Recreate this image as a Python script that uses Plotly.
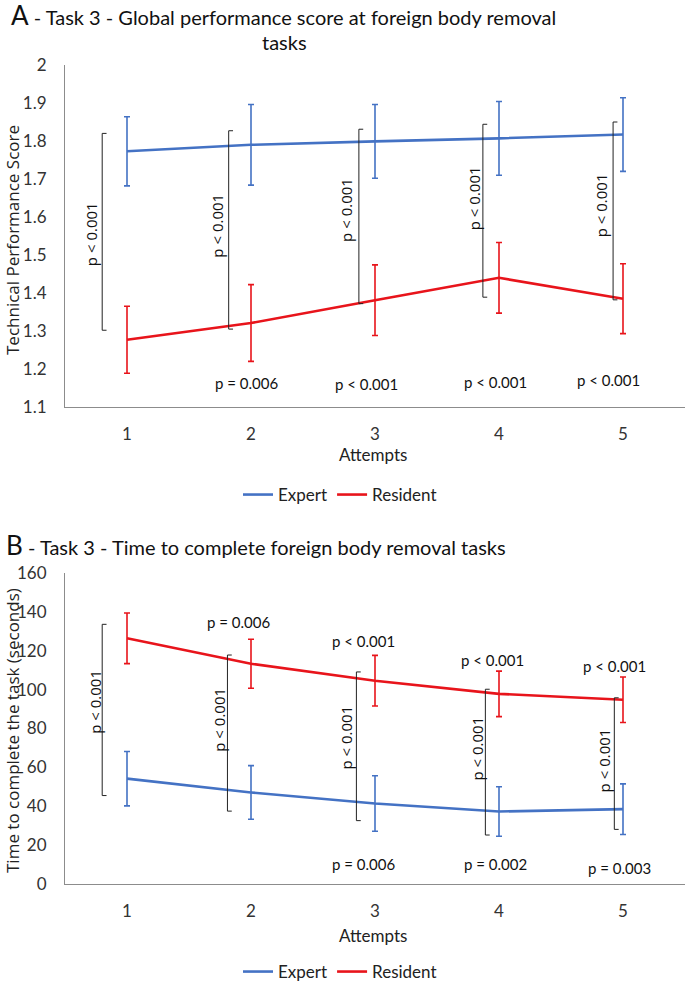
import plotly.graph_objects as go

attempts = [1, 2, 3, 4, 5]

# Panel A - technical performance score
score_expert = [1.773, 1.790, 1.799, 1.807, 1.817]
score_expert_err = [0.091, 0.106, 0.097, 0.097, 0.097]
score_resident = [1.277, 1.321, 1.381, 1.440, 1.385]
score_resident_err = [0.088, 0.101, 0.093, 0.093, 0.092]

# brackets between groups (x position, bottom, top)
score_br_x = [0.80, 1.82, 2.87, 3.87, 4.92]
score_br_lo = [1.302, 1.305, 1.372, 1.389, 1.382]
score_br_hi = [1.820, 1.827, 1.831, 1.844, 1.850]
score_br_lbl_x = [0.71, 1.73, 2.77, 3.80, 4.82]
score_br_lbl_y = [1.555, 1.576, 1.62, 1.65, 1.63]
score_br_lbl = ["p < 0.001"] * 5

score_low_x = [1.96, 2.93, 3.97, 4.88]
score_low_y = [1.162, 1.160, 1.165, 1.172]
score_low_lbl = ["p = 0.006", "p < 0.001", "p < 0.001", "p < 0.001"]

# Panel B - time to complete (seconds)
time_expert = [54.2, 47.1, 41.4, 37.3, 38.5]
time_expert_err = [14.0, 13.8, 14.3, 12.7, 13.0]
time_resident = [126.4, 113.3, 104.6, 97.8, 94.8]
time_resident_err = [13.0, 12.6, 13.0, 11.7, 11.7]

time_br_x = [0.80, 1.81, 2.85, 3.89, 4.93]
time_br_lo = [45.5, 37.5, 32.6, 25.2, 28.1]
time_br_hi = [133.6, 117.8, 109.1, 100.2, 95.8]
time_br_lbl_x = [0.74, 1.74, 2.77, 3.82, 4.85]
time_br_lbl_y = [93.6, 84.4, 75.6, 69.5, 63.8]
time_br_lbl = ["p < 0.001"] * 5

time_high_x = [1.90, 2.91, 3.95, 4.93]
time_high_y = [135.0, 125.2, 115.2, 112.3]
time_high_lbl = ["p = 0.006", "p < 0.001", "p < 0.001", "p < 0.001"]

time_low_x = [2.91, 3.97, 4.97]
time_low_y = [10.3, 10.2, 8.1]
time_low_lbl = ["p = 0.006", "p = 0.002", "p = 0.003"]

BLUE = "#4472C4"
RED = "#E8141B"
W, H = 685, 984
TICK_FONT = dict(family="Lato", size=17, color="#333333")


def px_x(p):
    return p / W


def px_y(p):
    return 1 - p / H


fig = go.Figure()


def add_panel(xa, ya, legend, exp, exp_err, res, res_err, br_x, br_lo, br_hi):
    xref = "x" if xa == "" else "x" + xa
    yref = "y" if ya == "" else "y" + ya
    for name, vals, err, col in [("Expert", exp, exp_err, BLUE),
                                 ("Resident", res, res_err, RED)]:
        fig.add_trace(go.Scatter(
            x=attempts, y=vals, name=name, mode="lines",
            line=dict(color=col, width=2.6),
            error_y=dict(type="data", array=err, color=col, thickness=1.6, width=3),
            xaxis=xref, yaxis=yref, legend=legend,
        ))
    d = 0.035
    for bx, lo, hi in zip(br_x, br_lo, br_hi):
        fig.add_trace(go.Scatter(
            x=[bx + d, bx, bx, bx + d], y=[hi, hi, lo, lo], mode="lines",
            line=dict(color="#222222", width=1), showlegend=False,
            hoverinfo="skip", xaxis=xref, yaxis=yref,
        ))


add_panel("", "", "legend", score_expert, score_expert_err, score_resident,
          score_resident_err, score_br_x, score_br_lo, score_br_hi)
add_panel("2", "2", "legend2", time_expert, time_expert_err, time_resident,
          time_resident_err, time_br_x, time_br_lo, time_br_hi)

annotations = []


def add_text(xs, ys, labels, xref, yref, angle=0, size=14, family="Lato"):
    for x, y, t in zip(xs, ys, labels):
        annotations.append(dict(
            x=x, y=y, text=t, xref=xref, yref=yref, showarrow=False,
            xanchor="center", yanchor="middle",
            textangle=angle, font=dict(family=family, size=size, color="#111111"),
        ))


add_text(score_br_lbl_x, score_br_lbl_y, score_br_lbl, "x", "y", -90, 15, "Open Sans")
add_text(score_low_x, score_low_y, score_low_lbl, "x", "y", 0, 15)
add_text(time_br_lbl_x, time_br_lbl_y, time_br_lbl, "x2", "y2", -90, 15, "Open Sans")
add_text(time_high_x, time_high_y, time_high_lbl, "x2", "y2", 0, 15)
add_text(time_low_x, time_low_y, time_low_lbl, "x2", "y2", 0, 15)

# titles
annotations.append(dict(
    x=px_x(283), y=px_y(15), xref="paper", yref="paper", showarrow=False,
    xanchor="center", yanchor="middle",
    text='<span style="font-size:26px">A</span> - Task 3 - Global performance score at foreign body removal',
    font=dict(family="Lato", size=20, color="#111111"),
))
annotations.append(dict(
    x=px_x(284), y=px_y(42), xref="paper", yref="paper", showarrow=False,
    xanchor="center", yanchor="middle", text="tasks",
    font=dict(family="Lato", size=20, color="#111111"),
))
annotations.append(dict(
    x=px_x(4), y=px_y(545), xref="paper", yref="paper", showarrow=False,
    xanchor="left", yanchor="middle", align="left",
    text='<span style="font-size:26px">B</span> - Task 3 - Time to complete foreign body removal tasks',
    font=dict(family="Lato", size=20, color="#111111"),
))
# axis titles
for txt, yy in [("Technical Performance Score", 240), ("Time to complete the task (seconds)", 731)]:
    annotations.append(dict(
        x=px_x(12), y=px_y(yy), xref="paper", yref="paper", showarrow=False,
        xanchor="center", yanchor="middle",
        textangle=-90, text=txt, font=dict(family="Open Sans", size=17, color="#222222"),
    ))
for yy in [454, 935]:
    annotations.append(dict(
        x=px_x(373), y=px_y(yy), xref="paper", yref="paper", showarrow=False,
        xanchor="center", yanchor="middle",
        text="Attempts", font=dict(family="Lato", size=17, color="#222222"),
    ))

xaxis_common = dict(
    range=[0.5, 5.5], tickvals=attempts, ticks="outside", ticklen=12,
    tickcolor="rgba(0,0,0,0)", showline=True, linecolor="#8c8c8c", linewidth=1,
    showgrid=False, zeroline=False, tickfont=TICK_FONT, domain=[px_x(65), 1],
    automargin=False,
)
yaxis_common = dict(
    ticks="outside", ticklen=14, tickcolor="rgba(0,0,0,0)", showline=True,
    linecolor="#8c8c8c", linewidth=1, showgrid=False, zeroline=False, tickfont=TICK_FONT,
    automargin=False,
)

fig.update_layout(
    width=W, height=H, margin=dict(l=0, r=0, t=0, b=0, autoexpand=False),
    paper_bgcolor="white", plot_bgcolor="white",
    showlegend=True,
    xaxis=dict(**xaxis_common, anchor="y"),
    yaxis=dict(**yaxis_common, anchor="x", range=[1.1, 2.0], dtick=0.1,
               domain=[px_y(407), px_y(65)]),
    xaxis2=dict(**xaxis_common, anchor="y2"),
    yaxis2=dict(**yaxis_common, anchor="x2", range=[0, 160], dtick=20,
                domain=[px_y(884), px_y(573)]),
    legend=dict(orientation="h", x=px_x(340), y=px_y(495), xanchor="center",
                yanchor="middle", font=dict(family="Lato", size=17, color="#222222"),
                itemwidth=30, tracegroupgap=0),
    legend2=dict(orientation="h", x=px_x(340), y=px_y(972), xanchor="center",
                 yanchor="middle", font=dict(family="Lato", size=17, color="#222222"),
                 itemwidth=30, tracegroupgap=0),
    annotations=annotations,
)

# drop the browser's default body margin so the figure fills the window
fig.write_html("out.html", config={"displayModeBar": False},
               post_script="document.body.style.margin='0';")
